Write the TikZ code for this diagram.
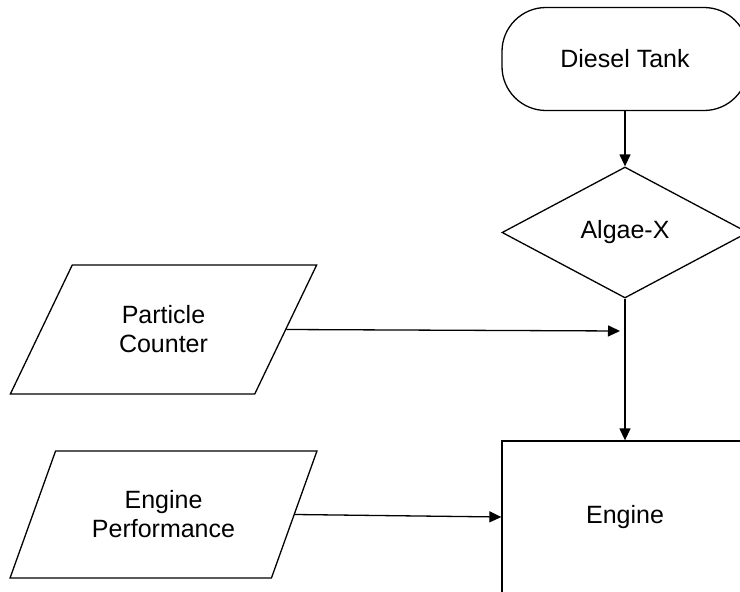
\documentclass[tikz,border=0pt]{standalone}
\usepackage{fontspec}
\setmainfont{Liberation Sans}
\usetikzlibrary{shapes.geometric,arrows.meta}
\begin{document}
\begin{tikzpicture}[x=1pt,y=-1pt,
  every node/.style={font=\fontsize{25}{29}\selectfont, align=center, inner sep=0pt},
  box/.style={draw, line width=1.3pt},
  io/.style={box, trapezium, trapezium left angle=57.5, trapezium right angle=122.5,
     trapezium stretches=true, minimum width=307pt, minimum height=129pt},
  link/.style={line width=1.3pt, -{Triangle[length=12pt,width=11pt]}}]
\useasboundingbox (0,0) rectangle (740,592);
\clip (0,0) rectangle (740,592);
\node[box, rounded corners=44pt, minimum width=246pt, minimum height=103pt] (tank) at (625,59) {Diesel Tank};
\node[box, diamond, minimum width=246pt, minimum height=131pt] (algae) at (625,232.5) {\raisebox{-2pt}{Algae-X}};
\node[box, minimum width=246pt, minimum height=152pt] (engine) at (625,517) {\raisebox{-2pt}{Engine}};
\node[io] (pc) at (163.5,329.5) {Particle\\Counter};
\node[io, minimum height=127pt] (ep) at (163.5,514.5) {Engine\\Performance};
\coordinate (j) at (620,331);
\draw[link] (tank) -- (algae);
\draw[link] (algae) -- (engine);
\draw[link] (pc.east) -- (j);
\draw[link] (ep.east) -- (engine.west);
\end{tikzpicture}
\end{document}
